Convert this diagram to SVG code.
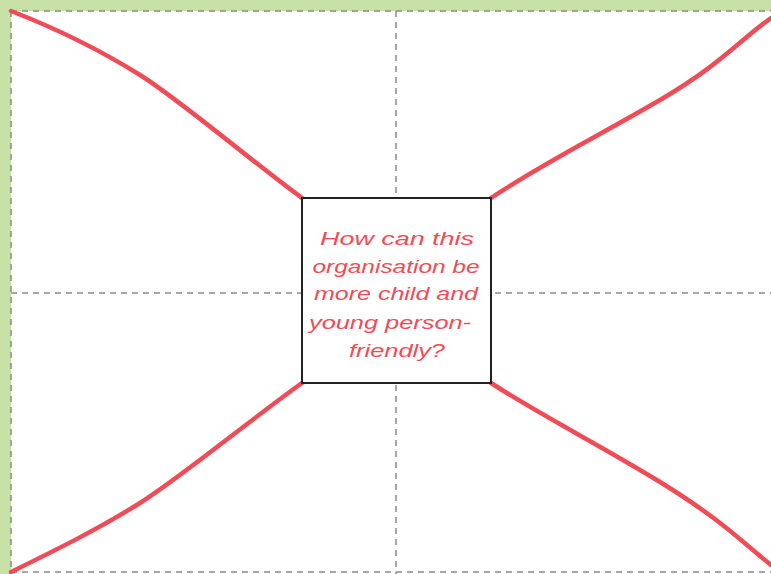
<svg xmlns="http://www.w3.org/2000/svg" width="771" height="574" viewBox="0 0 771 574">
<style>
.grid{stroke:#8a8a8a;stroke-width:1.5;stroke-dasharray:6 5;fill:none}
.curve{stroke:#ef4c57;stroke-width:4.5;fill:none;stroke-linecap:round}
.q{font-family:"Liberation Sans",Arial,sans-serif;font-style:italic;font-size:19px;fill:#ef4c57;text-anchor:middle}
</style>
<rect x="0" y="0" width="771" height="574" fill="#c6e0a6"/>
<rect x="11" y="11" width="760" height="563" fill="#ffffff"/>
<g id="grid">
<path class="grid" d="M11 11H771M11 11V574M11 572H771M396 11V574M11 293H771"/>
</g>
<g id="connectors">
<path class="curve" d="M11 11C60 30 100 50 140 75S250 160 302 198"/>
<path class="curve" d="M491 198C540 165 600 135 660 100S740 40 771 18"/>
<path class="curve" d="M11 572C60 548 100 528 140 503S250 420 302 383"/>
<path class="curve" d="M491 383C540 415 600 445 660 482S740 540 771 565"/>
</g>
<g id="center">
<rect x="302" y="198" width="189" height="185" fill="#ffffff" stroke="#222222" stroke-width="2"/>
<text class="q" x="397" y="245" textLength="154" lengthAdjust="spacingAndGlyphs">How can this</text>
<text class="q" x="396" y="273" textLength="167" lengthAdjust="spacingAndGlyphs">organisation be</text>
<text class="q" x="396" y="300" textLength="164" lengthAdjust="spacingAndGlyphs">more child and</text>
<text class="q" x="390" y="329" textLength="162" lengthAdjust="spacingAndGlyphs">young person-</text>
<text class="q" x="397" y="357" textLength="96" lengthAdjust="spacingAndGlyphs">friendly?</text>
</g>
</svg>
